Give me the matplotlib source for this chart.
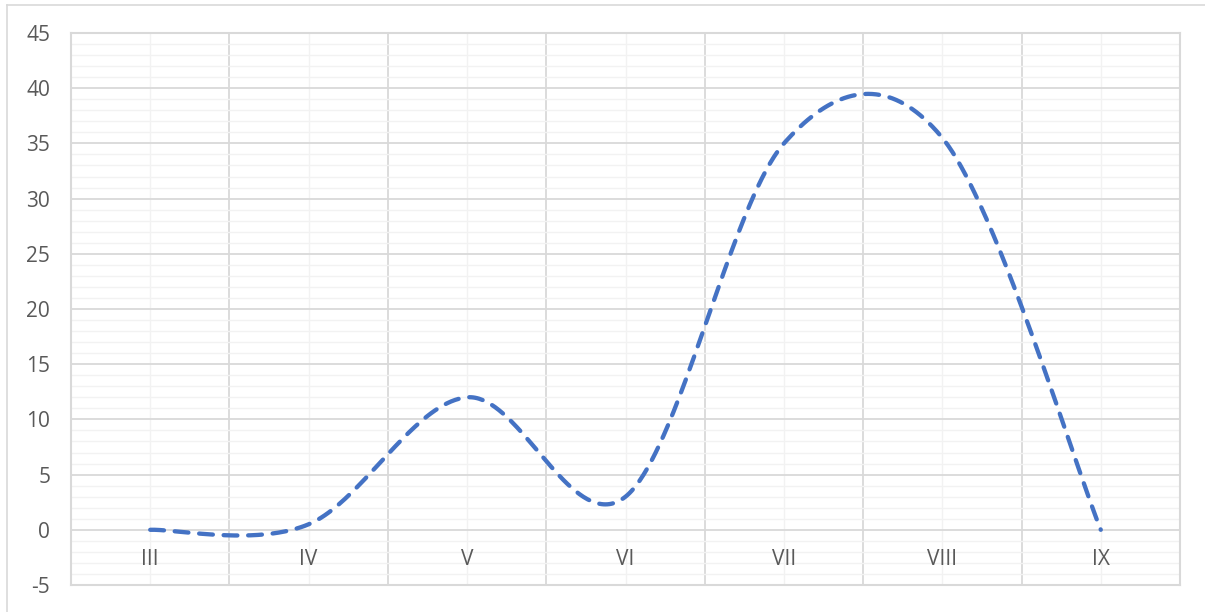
import numpy as np
import matplotlib.pyplot as plt
from matplotlib.lines import Line2D

categories = ["III", "IV", "V", "VI", "VII", "VIII", "IX"]
values = [0, 0.5, 12, 3, 35, 35.5, 0]

y_min, y_max = -5, 45
line_color = "#4472C4"
text_color = "#595959"

plt.rcParams["font.family"] = ["Open Sans", "DejaVu Sans"]
plt.rcParams["axes.unicode_minus"] = False


def smooth(xs, ys, n=80):
    # Excel-style smoothed line: Bezier segments, control points from neighbours
    pts = np.column_stack([xs, ys]).astype(float)
    padded = np.vstack([pts[0], pts, pts[-1]])
    t = np.linspace(0, 1, n)[:, None]
    out = []
    for i in range(len(pts) - 1):
        p0, p3 = padded[i + 1], padded[i + 2]
        c1 = p0 + (padded[i + 2] - padded[i]) / 6
        c2 = p3 - (padded[i + 3] - padded[i + 1]) / 6
        seg = (1 - t) ** 3 * p0 + 3 * (1 - t) ** 2 * t * c1 \
            + 3 * (1 - t) * t ** 2 * c2 + t ** 3 * p3
        out.append(seg if i == 0 else seg[1:])
    seg = np.vstack(out)
    return seg[:, 0], seg[:, 1]


fig = plt.figure(figsize=(12.05, 6.12), dpi=100)
ax = fig.add_axes([71 / 1205, (612 - 585) / 612, (1180 - 71) / 1205, (585 - 33) / 612])

x = np.arange(len(categories))
sx, sy = smooth(x, values)
ln, = ax.plot(sx, sy, color=line_color, lw=3.1, solid_capstyle="round",
              dash_capstyle="round", zorder=5)
ln.set_dashes([3.2, 2.5])

ax.set_xlim(-0.5, len(categories) - 0.5)
ax.set_ylim(y_min, y_max)
ax.set_xticks(np.arange(-0.5, len(categories), 1))
ax.set_xticks(x, minor=True)
ax.set_yticks(np.arange(y_min, y_max + 1, 5))
ax.set_yticks(np.arange(y_min, y_max + 1, 1), minor=True)
ax.set_xticklabels([])
ax.tick_params(which="both", length=0)
ax.tick_params(axis="y", labelsize=15, labelcolor=text_color, pad=15)

ax.grid(which="minor", color="#F2F2F2", lw=1.0)
ax.grid(which="major", color="#D9D9D9", lw=1.3)
ax.set_axisbelow(True)
for s in ax.spines.values():
    s.set_color("#D9D9D9")
    s.set_linewidth(1.5)

for i, cat in enumerate(categories):
    ax.annotate(cat, (i, 0), xytext=(0, -30), textcoords="offset pixels",
                ha="center", va="center", fontsize=15, color=text_color)

# outer chart border (top and left visible)
fig.add_artist(Line2D([6.5 / 1205, 1], [1 - 4.5 / 612] * 2,
                      transform=fig.transFigure, color="#D9D9D9", lw=1.2))
fig.add_artist(Line2D([6.5 / 1205] * 2, [0, 1 - 4.5 / 612],
                      transform=fig.transFigure, color="#D9D9D9", lw=1.2))

fig.savefig("out.png", dpi=100)
